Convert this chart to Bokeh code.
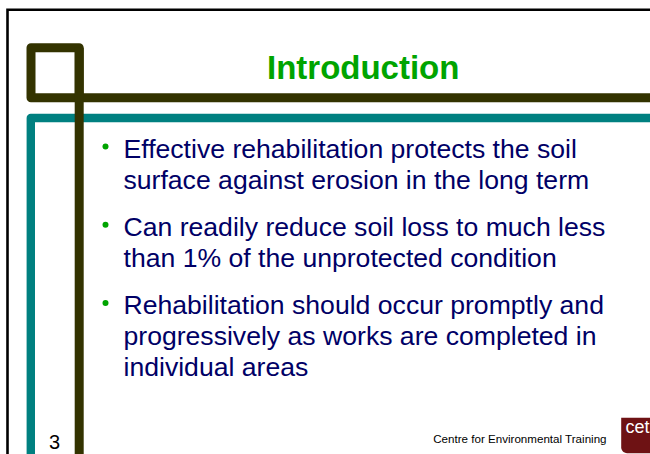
import numpy as np
from bokeh.plotting import figure
from bokeh.models import Range1d
from bokeh.core.properties import value
from bokeh.embed import file_html
from bokeh.resources import INLINE

# ---- content ----
title = "Introduction"
bullet_paragraphs = [
    ["Effective rehabilitation protects the soil",
     "surface against erosion in the long term"],
    ["Can readily reduce soil loss to much less",
     "than 1% of the unprotected condition"],
    ["Rehabilitation should occur promptly and",
     "progressively as works are completed in",
     "individual areas"],
]
page_number = "3"
footer = "Centre for Environmental Training"
logo_text = "cet"

FONT = value("Liberation Sans")
OLIVE = "#333300"
TEAL = "#008080"
GREEN = "#00a400"
NAVY = "#000066"
SHIFT = 0.28  # baseline compensation, fraction of font size

p = figure(width=650, height=454,
           x_range=Range1d(0, 650), y_range=Range1d(454, 0),
           output_backend="svg", toolbar_location=None,
           x_axis_location=None, y_axis_location=None,
           min_border=0, outline_line_color=None,
           background_fill_color="white", border_fill_color="white")
p.grid.visible = False


def put_text(x, y, txt, size, **kw):
    ys = [yy - SHIFT * size for yy in y]
    p.text(x=x, y=ys, text=txt, text_font=FONT, text_font_size=f"{size}px",
           text_baseline="alphabetic", **kw)


# outer black border
p.line(x=[7.0, 7.0, 700], y=[500, 9.3, 9.3], line_color="black",
       line_width=2.6, line_join="miter")

# teal frame
p.line(x=[700, 30.3, 30.3], y=[117.5, 117.5, 500], line_color=TEAL,
       line_width=8.4, line_join="round")

# olive square + lines
p.patch(x=[30.5, 78.7, 78.7, 30.5], y=[47.2, 47.2, 97.2, 97.2],
        fill_alpha=0, line_color=OLIVE, line_width=9, line_join="round")
p.line(x=[78.7, 700], y=[97.2, 97.2], line_color=OLIVE, line_width=9)
p.line(x=[78.7, 78.7], y=[47.2, 500], line_color=OLIVE, line_width=9)

# title
put_text([362.7], [76.7], [title], 33, text_font_style="bold",
         text_color=GREEN, text_align="center")

# bullets
xs, ys, texts, bx, by = [], [], [], [], []
y0 = 155.7
line_step = 31.0
para_gap = 47.3
y = y0
for para in bullet_paragraphs:
    bx.append(105.0)
    by.append(y - 9.7)
    for i, line in enumerate(para):
        xs.append(123.0)
        ys.append(y)
        texts.append(line)
        if i < len(para) - 1:
            y += line_step
    y += para_gap
p.scatter(x=bx, y=by, size=6, marker="circle", fill_color=GREEN,
          line_color=None)
put_text(xs, ys, texts, 26.6, text_color=NAVY, text_align="left")

# footer
put_text([48.5], [446.7], [page_number], 20, text_color="black")
put_text([432.7], [441.7], [footer], 11.6, text_color="black")

# logo box with rounded bottom-left corner
r = 6.0
ang = np.linspace(np.pi, np.pi / 2, 8)
cx, cy = 620.7 + r, 452.7 - r
lx = [620.7] + list(cx + r * np.cos(ang)) + [700, 700]
ly = [417.3] + list(cy + r * np.sin(ang)) + [452.7, 417.3]
p.patch(x=lx, y=ly, fill_color="#6e1214", line_color=None)
put_text([625.0], [431.7], [logo_text], 18, text_color="white")

open("out.html", "w").write(file_html(p, INLINE))
